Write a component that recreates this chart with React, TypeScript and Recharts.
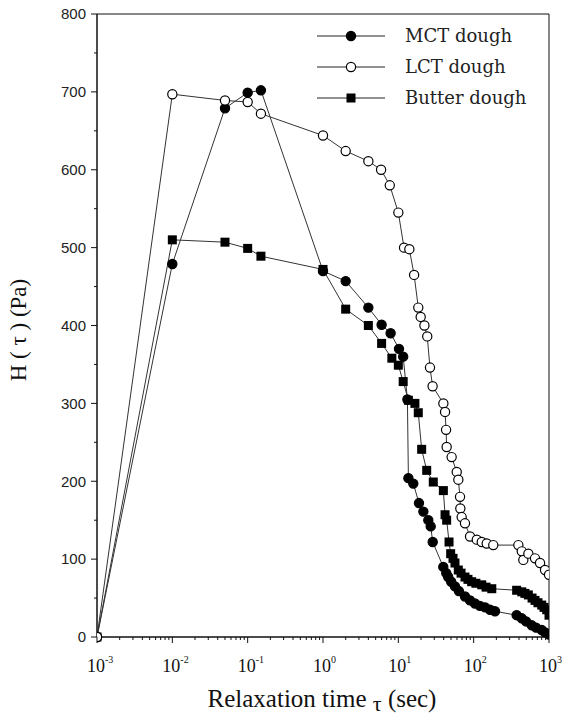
import React from 'react';
import { LineChart, Line, XAxis, YAxis, ReferenceArea, Legend, Label } from 'recharts';

// relaxation spectra (x = tau in sec, y = H(tau) in Pa)
const mctX = [0.001, 0.01, 0.05, 0.1, 0.15, 1.0, 2, 4, 6, 7.9, 10.2, 11.6, 13.2, 13.6, 15.8, 18.8, 21.5, 25, 26.9, 28.6, 39.5, 43.3, 45.9, 50.3, 56.5, 63.7, 76.7, 89.5, 104, 121, 142, 165, 192, 372, 435, 496, 590, 673, 800, 886, 1000];
const mctY = [0, 479, 679, 699, 702, 470, 457, 423, 401, 390, 370, 360, 305, 204, 197, 172, 161, 150, 142, 122, 90, 82, 77, 71, 65, 59, 52, 47, 43, 40, 38, 35, 33, 28, 24, 20, 15, 12, 9, 6, 3];

const lctX = [0.001, 0.01, 0.05, 0.1, 0.15, 1.0, 2, 4, 5.9, 7.7, 10, 11.9, 14, 16.2, 18.4, 19.8, 22.2, 24.2, 26.3, 28.5, 39.6, 41.7, 43, 43.8, 51, 59.6, 62.6, 65.9, 66.5, 69.3, 76.7, 89.5, 110, 128, 149, 182, 392, 435, 456, 532, 652, 760, 886, 1000];
const lctY = [0, 697, 689, 687, 672, 644, 624, 611, 600, 580, 545, 500, 498, 465, 423, 411, 400, 386, 346, 322, 300, 289, 266, 244, 231, 212, 202, 180, 165, 154, 146, 129, 125, 122, 120, 118, 118, 110, 99, 107, 101, 95, 86, 80];

const butterX = [0.001, 0.01, 0.05, 0.1, 0.15, 1.0, 2, 4, 6, 8.2, 10, 11.6, 13.6, 16.6, 18.4, 20.4, 23.8, 29.1, 39.6, 41.7, 43.8, 47.1, 49.5, 53.2, 56.5, 62.5, 68, 76.7, 84, 94, 107, 128, 146, 174, 372, 435, 479, 532, 596, 652, 714, 800, 859, 933, 1000];
const butterY = [0, 510, 507, 499, 489, 472, 421, 400, 377, 358, 349, 328, 304, 300, 288, 241, 214, 199, 188, 157, 150, 122, 107, 101, 95, 86, 82, 77, 74, 71, 69, 67, 64, 62, 60, 58, 56, 54, 50, 47, 44, 41, 38, 35, 28];

const decades = [0.001, 0.01, 0.1, 1, 10, 100, 1000];
const minorSteps = [2, 3, 4, 5, 6, 7, 8, 9];
const yTicks = [0, 50, 100, 150, 200, 250, 300, 350, 400, 450, 500, 550, 600, 650, 700, 750, 800];

const legendItems = [
  { name: 'MCT dough', shape: 'dot' },
  { name: 'LCT dough', shape: 'ring' },
  { name: 'Butter dough', shape: 'square' },
];

const toPoints = (xs: number[], ys: number[]) => xs.map((x, i) => ({ x, y: ys[i] }));
const mctData = toPoints(mctX, mctY);
const lctData = toPoints(lctX, lctY);
const butterData = toPoints(butterX, butterY);

const xTicks = [
  ...decades,
  ...decades.slice(0, -1).flatMap(d => minorSteps.map(k => +(d * k).toPrecision(3))),
].sort((a, b) => a - b);

const serif = { fontFamily: "'Liberation Serif', 'Times New Roman', serif" };
const sans = { fontFamily: "'Liberation Sans', Arial, sans-serif" };
const ink = '#111';

const XTick = ({ x, y, payload }: any) => {
  const v = payload.value;
  const major = decades.includes(v);
  const e = Math.round(Math.log10(v));
  return (
    <g>
      <line x1={x} x2={x} y1={y} y2={y + (major ? 6 : 3)} stroke={ink} />
      {major && (
        <text x={x - 10} y={y + 35} style={serif} fontSize={18} fill={ink}>
          10<tspan dy={-9} fontSize={10}>{e}</tspan>
        </text>
      )}
    </g>
  );
};

const YTick = ({ x, y, payload }: any) => {
  const v = payload.value;
  const major = v % 100 === 0;
  return (
    <g>
      <line x1={x} x2={x - (major ? 6 : 3)} y1={y} y2={y} stroke={ink} />
      {major && (
        <text x={x - 11} y={y} dy="0.35em" textAnchor="end" style={sans} fontSize={15} fill="#222">{v}</text>
      )}
    </g>
  );
};

const marker = (shape: string) => (props: any) => {
  const { cx, cy, index } = props;
  if (cx == null || cy == null) return <g key={index} />;
  if (shape === 'square') {
    return <rect key={index} x={cx - 4.5} y={cy - 4.5} width={9} height={9} fill="#000" />;
  }
  return <circle key={index} cx={cx} cy={cy} r={4.6} fill={shape === 'dot' ? '#000' : '#fff'} stroke="#000" strokeWidth={1.2} />;
};

const LegendBox = () => (
  <svg width={230} height={90}>
    {legendItems.map((item, i) => {
      const cy = 10 + i * 31;
      return (
        <g key={item.name}>
          <line x1={0} x2={68} y1={cy} y2={cy} stroke="#222" />
          {item.shape === 'square'
            ? <rect x={29.5} y={cy - 4.5} width={9} height={9} fill="#000" />
            : <circle cx={34} cy={cy} r={4.6} fill={item.shape === 'dot' ? '#000' : '#fff'} stroke="#000" strokeWidth={1.2} />}
          <text x={88} y={cy} dy="0.35em" style={{ fontFamily: "'DejaVu Serif', serif" }} fontSize={18} fill="#222">{item.name}</text>
        </g>
      );
    })}
  </svg>
);

const XTitle = () => (
  <text x={322} y={707} textAnchor="middle" style={serif} fontSize={25} fill={ink}>
    Relaxation time <tspan fontSize={22} dy={4}>τ</tspan><tspan dy={-4}> (sec)</tspan>
  </text>
);

const YTitle = () => (
  <text x={26} y={330} transform="rotate(-90 26 330)" textAnchor="middle" style={serif} fontSize={23} fill={ink}>
    H ( τ ) (Pa)
  </text>
);

const App: React.FC = () => {
  return (
    <div style={{ position: 'absolute', left: 0, top: 0, width: 565, height: 716, background: '#fff' }}>
      <LineChart width={565} height={716} margin={{ top: 14, right: 16, bottom: 39, left: 40 }}>
        <XAxis
          dataKey="x"
          type="number"
          scale="log"
          domain={[0.001, 1000]}
          allowDataOverflow
          ticks={xTicks}
          interval={0}
          tick={<XTick />}
          tickLine={false}
          tickSize={0}
          tickMargin={0}
          height={40}
          axisLine={{ stroke: ink }}
        >
          <Label content={<XTitle />} />
        </XAxis>
        <YAxis
          dataKey="y"
          type="number"
          domain={[0, 800]}
          ticks={yTicks}
          interval={0}
          tick={<YTick />}
          tickLine={false}
          tickSize={0}
          tickMargin={0}
          width={57}
          axisLine={{ stroke: ink }}
        >
          <Label content={<YTitle />} />
        </YAxis>
        <ReferenceArea x1={0.001} x2={1000} y1={0} y2={800} fill="none" stroke={ink} strokeWidth={1} ifOverflow="visible" />
        <Legend
          layout="vertical"
          align="center"
          verticalAlign="middle"
          content={<LegendBox />}
          wrapperStyle={{ position: 'absolute', left: 317, top: 26, width: 230 }}
        />
        <Line data={butterData} dataKey="y" name="Butter dough" stroke="#333" strokeWidth={1} dot={marker('square')} activeDot={false} isAnimationActive={false} />
        <Line data={mctData} dataKey="y" name="MCT dough" stroke="#333" strokeWidth={1} dot={marker('dot')} activeDot={false} isAnimationActive={false} />
        <Line data={lctData} dataKey="y" name="LCT dough" stroke="#333" strokeWidth={1} dot={marker('ring')} activeDot={false} isAnimationActive={false} />
      </LineChart>
    </div>
  );
};

export default App;
